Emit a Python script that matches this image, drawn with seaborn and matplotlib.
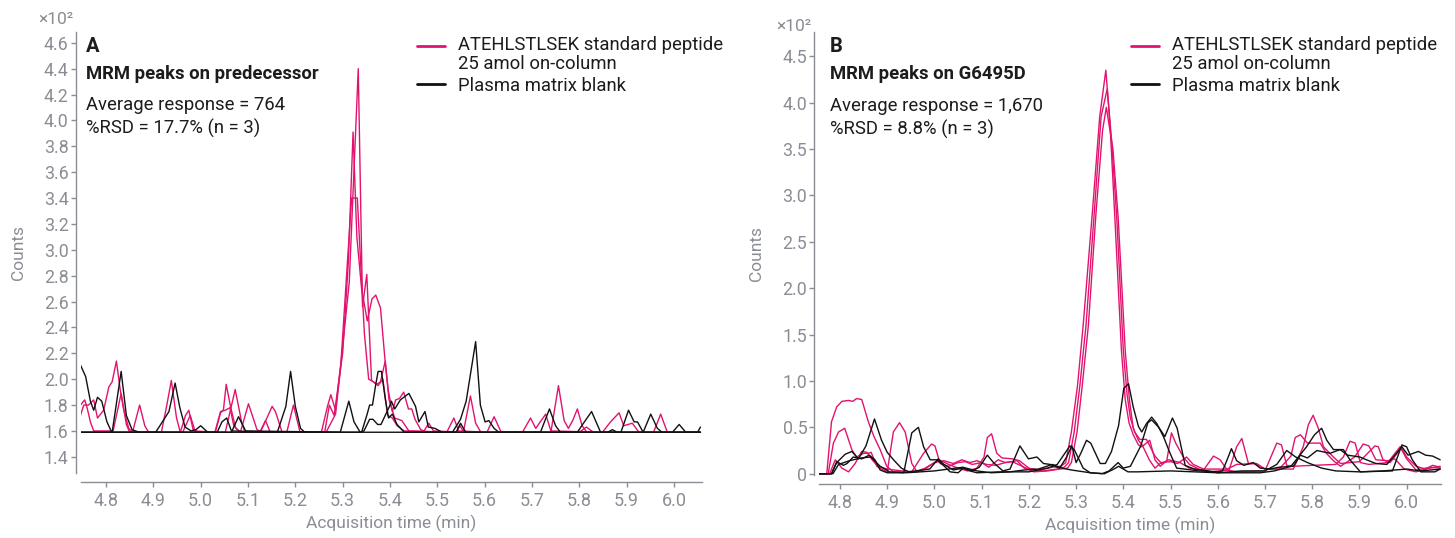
import pandas as pd
import seaborn as sns
import matplotlib.pyplot as plt
from matplotlib.lines import Line2D
from matplotlib.legend_handler import HandlerLine2D

sns.set_theme(style='ticks')
plt.rcParams['font.family'] = ['Roboto', 'DejaVu Sans']

PINK = '#e2136e'
BLACK = '#111111'
GREY = '#8a8d94'
INK = '#1c1c1c'

# %% panel A - MRM peaks on predecessor (counts x10^2), (time, counts)
a_std1 = [(4.746, 1.72), (4.753, 1.80), (4.763, 1.80), (4.774, 1.84), (4.782, 1.70), (4.795, 1.76),
          (4.806, 1.94), (4.813, 1.98), (4.822, 2.14), (4.830, 1.92), (4.837, 1.77), (4.848, 1.62),
          (4.856, 1.59), (4.957, 1.59), (4.968, 1.72), (4.975, 1.76), (4.984, 1.61), (4.995, 1.59),
          (5.031, 1.59), (5.042, 1.74), (5.048, 1.76), (5.054, 1.96), (5.063, 1.79), (5.074, 1.62),
          (5.084, 1.59), (5.126, 1.59), (5.140, 1.70), (5.151, 1.79), (5.158, 1.75), (5.172, 1.59),
          (5.255, 1.59), (5.268, 1.79), (5.275, 1.88), (5.285, 1.76), (5.300, 2.25), (5.314, 2.75),
          (5.333, 4.40), (5.342, 2.56), (5.351, 2.81), (5.361, 1.99), (5.372, 1.96), (5.380, 1.98),
          (5.390, 2.14), (5.398, 1.84), (5.410, 1.70), (5.425, 1.68), (5.440, 1.60), (5.520, 1.59),
          (5.535, 1.70), (5.545, 1.60), (5.605, 1.59), (5.620, 1.71), (5.635, 1.59), (5.740, 1.59),
          (5.756, 1.95), (5.768, 1.68), (5.777, 1.62), (5.786, 1.68), (5.796, 1.77), (5.806, 1.64),
          (5.816, 1.59), (5.957, 1.59), (5.972, 1.73), (5.986, 1.59), (6.056, 1.59)]
a_std2 = [(4.746, 1.80), (4.755, 1.84), (4.760, 1.78), (4.767, 1.67), (4.774, 1.60), (4.815, 1.60),
          (4.832, 1.89), (4.843, 1.65), (4.850, 1.59), (4.917, 1.59), (4.928, 1.79), (4.938, 1.99),
          (4.949, 1.70), (4.957, 1.59), (5.052, 1.59), (5.073, 1.92), (5.087, 1.66), (5.094, 1.59),
          (5.125, 1.59), (5.137, 1.68), (5.147, 1.59), (5.182, 1.59), (5.196, 1.80), (5.210, 1.59),
          (5.262, 1.59), (5.272, 1.80), (5.282, 1.72), (5.300, 2.20), (5.312, 2.90), (5.322, 3.91),
          (5.330, 3.10), (5.340, 2.70), (5.352, 2.45), (5.362, 2.62), (5.370, 2.65), (5.380, 2.55),
          (5.389, 2.17), (5.396, 1.92), (5.405, 1.75), (5.412, 1.84), (5.420, 1.85), (5.429, 1.90),
          (5.439, 1.77), (5.446, 1.77), (5.453, 1.69), (5.465, 1.61), (5.472, 1.60), (5.482, 1.66),
          (5.492, 1.60), (5.555, 1.59), (5.562, 1.72), (5.570, 1.87), (5.581, 1.66), (5.592, 1.59),
          (5.680, 1.59), (5.697, 1.70), (5.708, 1.62), (5.729, 1.73), (5.740, 1.60), (5.849, 1.59),
          (5.866, 1.67), (5.884, 1.74), (5.894, 1.64), (5.912, 1.66), (5.926, 1.59), (6.056, 1.59)]
a_std3 = [(4.746, 1.59), (4.856, 1.59), (4.871, 1.80), (4.882, 1.64), (4.890, 1.59), (4.962, 1.59),
          (4.978, 1.72), (4.988, 1.60), (5.030, 1.59), (5.042, 1.75), (5.052, 1.76), (5.062, 1.78),
          (5.070, 1.64), (5.084, 1.59), (5.101, 1.81), (5.119, 1.61), (5.130, 1.59), (5.265, 1.59),
          (5.285, 1.73), (5.296, 2.10), (5.310, 2.90), (5.319, 3.40), (5.331, 3.40), (5.338, 2.90),
          (5.346, 2.35), (5.355, 2.00), (5.365, 1.98), (5.375, 1.95), (5.385, 2.00), (5.395, 1.72),
          (5.405, 1.70), (5.415, 1.64), (5.430, 1.60), (5.540, 1.59), (5.548, 1.64), (5.556, 1.59),
          (5.800, 1.59), (5.815, 1.63), (5.830, 1.59), (6.056, 1.59)]
a_blk1 = [(4.746, 2.11), (4.757, 2.02), (4.767, 1.83), (4.774, 1.76), (4.782, 1.86), (4.791, 1.83),
          (4.802, 1.67), (4.812, 1.59), (4.905, 1.59), (4.919, 1.67), (4.933, 1.75), (4.946, 1.97),
          (4.956, 1.78), (4.967, 1.63), (4.980, 1.60), (4.990, 1.61), (5.000, 1.64), (5.015, 1.59),
          (5.340, 1.59), (5.351, 1.72), (5.357, 1.80), (5.363, 1.80), (5.370, 1.96), (5.375, 2.06),
          (5.382, 2.06), (5.390, 1.85), (5.397, 1.70), (5.405, 1.73), (5.415, 1.65), (5.430, 1.59),
          (5.532, 1.59), (5.549, 1.69), (5.561, 1.83), (5.581, 2.29), (5.591, 1.80), (5.601, 1.67),
          (5.609, 1.68), (5.620, 1.62), (5.630, 1.59), (5.796, 1.59), (5.807, 1.65), (5.826, 1.75),
          (5.845, 1.59), (5.935, 1.59), (5.951, 1.73), (5.965, 1.62), (5.975, 1.59), (6.056, 1.59)]
a_blk2 = [(4.746, 1.59), (4.813, 1.59), (4.832, 2.06), (4.843, 1.72), (4.855, 1.61), (4.870, 1.59),
          (5.035, 1.59), (5.045, 1.67), (5.055, 1.70), (5.065, 1.60), (5.162, 1.59), (5.180, 1.79),
          (5.190, 2.06), (5.200, 1.79), (5.211, 1.62), (5.220, 1.59), (5.718, 1.59), (5.737, 1.77),
          (5.750, 1.64), (5.760, 1.59), (5.888, 1.59), (5.904, 1.76), (5.916, 1.67), (5.923, 1.67),
          (5.935, 1.59), (5.997, 1.59), (6.011, 1.65), (6.025, 1.59), (6.050, 1.59), (6.056, 1.63)]
a_blk3 = [(4.746, 1.59), (5.065, 1.59), (5.080, 1.71), (5.095, 1.60), (5.295, 1.59), (5.313, 1.83),
          (5.324, 1.67), (5.337, 1.59), (5.345, 1.60), (5.357, 1.69), (5.364, 1.69), (5.374, 1.65),
          (5.381, 1.65), (5.399, 1.79), (5.403, 1.83), (5.410, 1.77), (5.422, 1.84), (5.440, 1.89),
          (5.454, 1.79), (5.461, 1.67), (5.474, 1.75), (5.481, 1.63), (5.495, 1.62), (5.510, 1.59),
          (5.540, 1.59), (5.549, 1.66), (5.560, 1.59), (5.860, 1.59), (5.870, 1.61), (5.880, 1.59),
          (6.056, 1.59)]

# %% panel B - MRM peaks on G6495D (counts x10^2)
b_std1 = [(4.756, 0), (4.772, 0), (4.782, 0.56), (4.793, 0.72), (4.804, 0.78), (4.818, 0.79),
          (4.827, 0.78), (4.835, 0.81), (4.846, 0.80), (4.860, 0.56), (4.872, 0.40), (4.885, 0.26),
          (4.899, 0.08), (4.913, 0.02), (4.952, 0.02), (4.977, 0.22), (4.994, 0.32), (5.001, 0.30),
          (5.012, 0.11), (5.030, 0.08), (5.050, 0.12), (5.065, 0.13), (5.080, 0.10), (5.100, 0.12),
          (5.115, 0.07), (5.135, 0.15), (5.150, 0.12), (5.175, 0.14), (5.190, 0.06), (5.220, 0.04),
          (5.250, 0.07), (5.268, 0.08), (5.278, 0.12), (5.290, 0.45), (5.303, 0.95), (5.315, 1.60),
          (5.335, 2.85), (5.350, 3.85), (5.363, 4.35), (5.372, 3.75), (5.382, 2.77), (5.396, 1.33),
          (5.404, 0.80), (5.412, 0.55), (5.421, 0.42), (5.432, 0.31), (5.439, 0.29), (5.456, 0.36),
          (5.467, 0.15), (5.478, 0.08), (5.492, 0.14), (5.502, 0.44), (5.511, 0.33), (5.527, 0.18),
          (5.540, 0.10), (5.560, 0.05), (5.580, 0.02), (5.624, 0.04), (5.640, 0.29), (5.651, 0.38),
          (5.665, 0.11), (5.682, 0.11), (5.700, 0.05), (5.730, 0.05), (5.755, 0.19), (5.764, 0.39),
          (5.775, 0.42), (5.790, 0.33), (5.817, 0.33), (5.830, 0.22), (5.845, 0.14), (5.860, 0.08),
          (5.890, 0.18), (5.908, 0.32), (5.920, 0.30), (5.935, 0.15), (5.960, 0.14), (5.975, 0.16),
          (5.995, 0.05), (6.020, 0.02), (6.040, 0.05), (6.071, 0.08)]
b_std2 = [(4.756, 0), (4.775, 0), (4.786, 0.33), (4.797, 0.45), (4.810, 0.49), (4.825, 0.26),
          (4.835, 0.18), (4.850, 0.22), (4.860, 0.22), (4.866, 0.23), (4.878, 0.08), (4.892, 0.04),
          (4.900, 0.02), (4.913, 0.45), (4.926, 0.55), (4.938, 0.45), (4.952, 0.11), (4.963, 0.02),
          (4.980, 0.05), (5.000, 0.12), (5.010, 0.15), (5.030, 0.10), (5.050, 0.06), (5.070, 0.03),
          (5.090, 0.06), (5.105, 0.18), (5.112, 0.39), (5.121, 0.43), (5.132, 0.22), (5.143, 0.17),
          (5.165, 0.16), (5.180, 0.14), (5.200, 0.06), (5.230, 0.03), (5.260, 0.05), (5.275, 0.07),
          (5.284, 0.12), (5.296, 0.45), (5.308, 0.95), (5.321, 1.60), (5.339, 2.85), (5.353, 3.85),
          (5.366, 4.15), (5.375, 3.60), (5.386, 2.77), (5.400, 1.33), (5.408, 0.85), (5.415, 0.60),
          (5.424, 0.45), (5.435, 0.37), (5.449, 0.37), (5.467, 0.19), (5.481, 0.11), (5.496, 0.15),
          (5.520, 0.12), (5.540, 0.06), (5.570, 0.04), (5.591, 0.19), (5.605, 0.15), (5.620, 0.04),
          (5.640, 0.02), (5.700, 0.03), (5.725, 0.33), (5.735, 0.31), (5.746, 0.09), (5.760, 0.08),
          (5.800, 0.09), (5.850, 0.10), (5.866, 0.18), (5.880, 0.35), (5.891, 0.33), (5.902, 0.12),
          (5.920, 0.10), (5.960, 0.12), (5.986, 0.29), (6.000, 0.16), (6.020, 0.04), (6.050, 0.07),
          (6.071, 0.06)]
b_std3 = [(4.756, 0), (4.778, 0), (4.790, 0.15), (4.804, 0.06), (4.818, 0.02), (4.832, 0.11),
          (4.846, 0.24), (4.857, 0.23), (4.868, 0.15), (4.880, 0.08), (4.900, 0.05), (4.930, 0.03),
          (4.960, 0.02), (4.980, 0.06), (5.000, 0.12), (5.020, 0.14), (5.040, 0.11), (5.058, 0.15),
          (5.075, 0.12), (5.090, 0.14), (5.110, 0.10), (5.130, 0.09), (5.150, 0.12), (5.165, 0.13),
          (5.190, 0.07), (5.210, 0.02), (5.240, 0.03), (5.265, 0.05), (5.282, 0.06), (5.290, 0.12),
          (5.302, 0.45), (5.313, 0.95), (5.326, 1.60), (5.342, 2.80), (5.356, 3.70), (5.364, 3.95),
          (5.378, 3.50), (5.389, 2.77), (5.404, 1.33), (5.413, 0.79), (5.421, 0.49), (5.432, 0.36),
          (5.440, 0.31), (5.455, 0.15), (5.467, 0.06), (5.480, 0.12), (5.500, 0.13), (5.515, 0.11),
          (5.534, 0.18), (5.548, 0.10), (5.570, 0.05), (5.620, 0.05), (5.640, 0.10), (5.680, 0.11),
          (5.700, 0.05), (5.760, 0.05), (5.781, 0.29), (5.792, 0.53), (5.802, 0.63), (5.813, 0.49),
          (5.824, 0.29), (5.845, 0.18), (5.860, 0.11), (5.900, 0.13), (5.933, 0.30), (5.940, 0.29),
          (5.950, 0.15), (5.965, 0.12), (5.980, 0.22), (5.988, 0.29), (6.000, 0.18), (6.020, 0.08),
          (6.040, 0.05), (6.055, 0.09), (6.071, 0.07)]
b_blk1 = [(4.756, 0), (4.782, 0), (4.793, 0.13), (4.807, 0.09), (4.815, 0.11), (4.828, 0.18),
          (4.846, 0.16), (4.862, 0.20), (4.874, 0.15), (4.885, 0.04), (4.900, 0.01), (4.935, 0.01),
          (4.952, 0.44), (4.966, 0.50), (4.977, 0.29), (4.991, 0.15), (5.005, 0.15), (5.019, 0.09),
          (5.033, 0.02), (5.050, 0.01), (5.061, 0.06), (5.075, 0.03), (5.090, 0.01), (5.140, 0.02),
          (5.200, 0.02), (5.240, 0.06), (5.260, 0.10), (5.287, 0.30), (5.296, 0.26), (5.315, 0.06),
          (5.330, 0.01), (5.355, 0.00), (5.370, 0.03), (5.389, 0.12), (5.400, 0.06), (5.415, 0.08),
          (5.437, 0.30), (5.452, 0.55), (5.460, 0.58), (5.475, 0.50), (5.488, 0.40), (5.504, 0.60),
          (5.514, 0.49), (5.531, 0.09), (5.550, 0.05), (5.580, 0.03), (5.600, 0.01), (5.690, 0.01),
          (5.720, 0.03), (5.755, 0.08), (5.774, 0.20), (5.788, 0.29), (5.805, 0.42), (5.820, 0.49),
          (5.831, 0.36), (5.845, 0.26), (5.866, 0.26), (5.880, 0.15), (5.902, 0.02), (5.970, 0.03),
          (5.990, 0.31), (6.000, 0.29), (6.012, 0.15), (6.030, 0.02), (6.060, 0.02), (6.071, 0.05)]
b_blk2 = [(4.756, 0), (4.782, 0), (4.793, 0.12), (4.811, 0.21), (4.825, 0.24), (4.839, 0.16),
          (4.855, 0.30), (4.873, 0.59), (4.888, 0.36), (4.900, 0.23), (4.915, 0.14), (4.930, 0.06),
          (4.945, 0.02), (4.990, 0.05), (5.008, 0.16), (5.020, 0.10), (5.040, 0.04), (5.060, 0.06),
          (5.080, 0.03), (5.095, 0.07), (5.112, 0.20), (5.125, 0.12), (5.145, 0.03), (5.160, 0.05),
          (5.181, 0.30), (5.199, 0.16), (5.217, 0.18), (5.231, 0.11), (5.245, 0.10), (5.265, 0.06),
          (5.280, 0.18), (5.291, 0.30), (5.300, 0.12), (5.310, 0.22), (5.322, 0.36), (5.331, 0.33),
          (5.351, 0.11), (5.362, 0.11), (5.375, 0.24), (5.390, 0.52), (5.401, 0.92), (5.411, 0.97),
          (5.421, 0.72), (5.432, 0.51), (5.439, 0.45), (5.449, 0.54), (5.460, 0.61), (5.471, 0.54),
          (5.485, 0.40), (5.499, 0.22), (5.513, 0.06), (5.530, 0.05), (5.560, 0.03), (5.600, 0.02),
          (5.610, 0.03), (5.619, 0.14), (5.629, 0.27), (5.640, 0.14), (5.655, 0.09), (5.675, 0.12),
          (5.690, 0.06), (5.710, 0.05), (5.730, 0.07), (5.760, 0.08), (5.775, 0.20), (5.790, 0.17),
          (5.810, 0.25), (5.838, 0.22), (5.859, 0.26), (5.875, 0.20), (5.901, 0.18), (5.915, 0.15),
          (5.935, 0.11), (5.958, 0.10), (5.972, 0.18), (5.990, 0.29), (6.003, 0.20), (6.025, 0.24),
          (6.040, 0.20), (6.055, 0.19), (6.071, 0.15)]
b_blk3 = [(4.756, 0), (4.785, 0), (4.797, 0.10), (4.820, 0.14), (4.845, 0.17), (4.865, 0.18),
          (4.885, 0.08), (4.905, 0.02), (4.940, 0.01), (5.000, 0.03), (5.030, 0.05), (5.060, 0.07),
          (5.090, 0.03), (5.120, 0.01), (5.160, 0.02), (5.190, 0.04), (5.220, 0.05), (5.250, 0.10),
          (5.270, 0.06), (5.290, 0.04), (5.330, 0.01), (5.360, 0.00), (5.380, 0.05), (5.390, 0.08),
          (5.410, 0.02), (5.430, 0.02), (5.500, 0.03), (5.550, 0.02), (5.600, 0.01), (5.650, 0.03),
          (5.700, 0.03), (5.725, 0.10), (5.746, 0.25), (5.765, 0.18), (5.790, 0.12), (5.820, 0.06),
          (5.850, 0.03), (5.900, 0.02), (5.950, 0.03), (6.000, 0.05), (6.030, 0.03), (6.071, 0.05)]

a_xticks = [4.8, 4.9, 5.0, 5.1, 5.2, 5.3, 5.4, 5.5, 5.6, 5.7, 5.8, 5.9, 6.0]
a_yticks = [1.4, 1.6, 1.8, 2.0, 2.2, 2.4, 2.6, 2.8, 3.0, 3.2, 3.4, 3.6, 3.8, 4.0, 4.2, 4.4, 4.6]
b_yticks = [0, 0.5, 1.0, 1.5, 2.0, 2.5, 3.0, 3.5, 4.0, 4.5]
b_ylabels = ['0', '0.5', '1.0', '1.5', '2.0', '2.5', '3.0', '3.5', '4.0', '4.5']

std_label = 'ATEHLSTLSEK standard peptide\n25 amol on-column'
blank_label = 'Plasma matrix blank'


class FirstLineHandler(HandlerLine2D):
    # keep the legend line level with the first line of a two-line label
    def __init__(self, shift, **kw):
        super().__init__(**kw)
        self.shift = shift

    def create_artists(self, legend, orig_handle, xdescent, ydescent, width, height, fontsize, trans):
        arts = super().create_artists(legend, orig_handle, xdescent, ydescent, width, height,
                                      fontsize, trans)
        for a in arts:
            a.set_ydata([y + self.shift * fontsize for y in a.get_ydata()])
        return arts


def to_frame(std, blank):
    rows = []
    for sample, traces in (('std', std), ('blank', blank)):
        for rep, pts in enumerate(traces):
            for t, y in pts:
                rows.append((sample, rep, t, y))
    return pd.DataFrame(rows, columns=['sample', 'rep', 'time', 'counts'])


df_a = to_frame([a_std1, a_std2, a_std3], [a_blk1, a_blk2, a_blk3])
df_b = to_frame([b_std1, b_std2, b_std3], [b_blk1, b_blk2, b_blk3])

W, H = 1455, 538
fig = plt.figure(figsize=(W / 100, H / 100), dpi=100)
ax_a = fig.add_axes([80.5 / W, 1 - 473 / H, 621.5 / W, 441 / H])
ax_b = fig.add_axes([819 / W, 1 - 475 / H, 622 / W, 443 / H])

panels = [
    (ax_a, df_a, (4.7461, 6.0593), (1.275, 4.683), a_yticks, [f'{v:.1f}' for v in a_yticks],
     ['A', 'MRM peaks on predecessor', 'Average response = 764', '%RSD = 17.7% (n = 3)'], 1.028),
    (ax_b, df_b, (4.7555, 6.0728), (-0.014, 4.762), b_yticks, b_ylabels,
     ['B', 'MRM peaks on G6495D', 'Average response = 1,670', '%RSD = 8.8% (n = 3)'], 1.012),
]

for ax, df, xlim, ylim, yt, ytl, texts, off_y in panels:
    sns.lineplot(data=df, x='time', y='counts', hue='sample', units='rep', estimator=None,
                 hue_order=['std', 'blank'], palette={'std': PINK, 'blank': BLACK},
                 lw=1.0, legend=False, sort=False, ax=ax)
    ax.set_xlim(*xlim)
    ax.set_ylim(*ylim)
    ax.set_xticks(a_xticks)
    ax.set_xticklabels([f'{v:.1f}' for v in a_xticks])
    ax.set_yticks(yt)
    ax.set_yticklabels(ytl)
    sns.despine(ax=ax, offset={'left': 3.5, 'bottom': 6.5})
    for side in ('left', 'bottom'):
        ax.spines[side].set_color(GREY)
        ax.spines[side].set_linewidth(1.0)
    ax.tick_params(axis='both', colors=GREY, length=3.5, width=1.0, labelcolor=GREY)
    ax.tick_params(axis='x', labelsize=13, pad=4)
    ax.tick_params(axis='y', labelsize=12.8, pad=1.5)
    ax.set_xlabel('Acquisition time (min)', color=GREY, fontsize=12.5, labelpad=3)
    ax.set_ylabel('Counts', color=GREY, fontsize=12.5, labelpad=13)
    ax.text(-0.012, off_y, '×10²', transform=ax.transAxes, ha='right', va='center',
            color=GREY, fontsize=12.5)

    x0 = 0.0088 if ax is ax_a else 0.0177
    ax.text(x0, 0.968, texts[0], transform=ax.transAxes, fontsize=14.5, fontweight='bold',
            color=INK, va='center')
    ax.text(x0, 0.905, texts[1], transform=ax.transAxes, fontsize=13.3, fontweight='bold',
            color=INK, va='center')
    ax.text(x0, 0.834, texts[2], transform=ax.transAxes, fontsize=13.3, color=INK, va='center')
    ax.text(x0, 0.781, texts[3], transform=ax.transAxes, fontsize=13.3, color=INK, va='center')

    h_std = Line2D([], [], color=PINK, lw=2)
    h_blank = Line2D([], [], color=BLACK, lw=2)
    leg_x = 417 / W if ax is ax_a else 1131 / W
    leg = ax.legend([h_std, h_blank], [std_label, blank_label], loc='upper left',
                    bbox_to_anchor=(leg_x, 1 - 35.5 / H), bbox_transform=fig.transFigure,
                    frameon=False, fontsize=13.3, borderpad=0, borderaxespad=0,
                    handlelength=1.5, handletextpad=0.7, labelspacing=0.22,
                    handler_map={h_std: FirstLineHandler(0.49)})
    for t in leg.get_texts():
        t.set_linespacing(1.1)
        t.set_color(INK)

fig.savefig('out.png', dpi=100)
